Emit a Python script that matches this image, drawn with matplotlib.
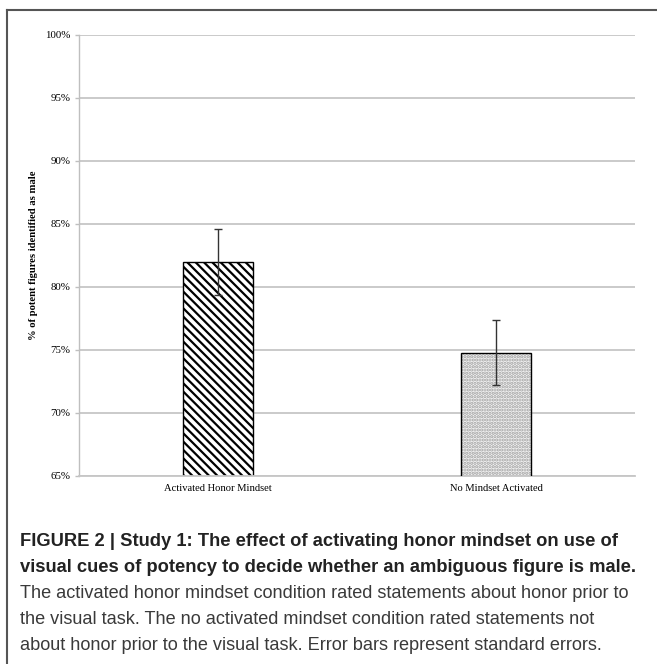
import matplotlib.pyplot as plt
import numpy as np
from matplotlib.lines import Line2D

conditions = ['Activated Honor Mindset', 'No Mindset Activated']
pct_male = [82.0, 74.8]
std_err = [2.6, 2.6]
y_ticks = [65, 70, 75, 80, 85, 90, 95, 100]
y_label = '% of potent figures identified as male'

caption_bold = ['FIGURE 2 | Study 1: The effect of activating honor mindset on use of',
                'visual cues of potency to decide whether an ambiguous figure is male.']
caption_plain = ['The activated honor mindset condition rated statements about honor prior to',
                 'the visual task. The no activated mindset condition rated statements not',
                 'about honor prior to the visual task. Error bars represent standard errors.']

plt.rcParams['hatch.linewidth'] = 1.6

fig = plt.figure(figsize=(6.57, 6.64), dpi=100)
ax = fig.add_axes([79 / 657, 1 - 476 / 664, (635 - 79) / 657, (476 - 35) / 664])

x = np.arange(len(conditions))
serif = 'Liberation Serif'

# striped bar
ax.bar(x[0], pct_male[0], width=0.25, color='white', edgecolor='black',
       hatch='\\\\\\\\', linewidth=1.0, zorder=2)
# stippled bar: hatch in gray, then black outline on top
ax.bar(x[1], pct_male[1], width=0.25, color='#f4f4f4', edgecolor='#a0a0a0',
       hatch='.....', linewidth=0, zorder=2)
ax.bar(x[1], pct_male[1], width=0.25, color='none', edgecolor='black',
       linewidth=1.0, zorder=3)

ax.errorbar(x, pct_male, yerr=std_err, fmt='none', ecolor='#333333',
            elinewidth=1.0, capsize=3, capthick=1.0, zorder=4)

ax.set_xlim(-0.5, 1.5)
ax.set_ylim(65, 100)
ax.set_yticks(y_ticks)
ax.set_yticklabels([f'{v}%' for v in y_ticks], fontfamily=serif, fontsize=7.8)
ax.set_xticks(x)
ax.set_xticklabels(conditions, fontfamily=serif, fontsize=7.6)
ax.tick_params(axis='x', length=0, pad=6)
ax.tick_params(axis='y', length=3, width=1, color='#bfbfbf', pad=3)

ax.yaxis.grid(True, color='#c6c6c6', linewidth=1.3)
ax.set_axisbelow(True)
for side in ['top', 'right']:
    ax.spines[side].set_visible(False)
ax.spines['left'].set_color('#bfbfbf')
ax.spines['bottom'].set_color('#c6c6c6')
ax.spines['left'].set_linewidth(1.0)
ax.spines['bottom'].set_linewidth(1.3)

ax.set_ylabel(y_label, fontfamily=serif, fontsize=7.7, fontweight='bold', labelpad=5)

# figure frame (open to the right and bottom)
fig.add_artist(Line2D([7.3 / 657, 1], [1 - 9.5 / 664, 1 - 9.5 / 664],
                      transform=fig.transFigure, color='#555555', linewidth=1.5))
fig.add_artist(Line2D([7.3 / 657, 7.3 / 657], [0, 1 - 9.5 / 664],
                      transform=fig.transFigure, color='#555555', linewidth=1.5))

line_y = [541, 567, 594, 620, 646]
for i, txt in enumerate(caption_bold + caption_plain):
    bold = i < len(caption_bold)
    fig.text(20 / 657, 1 - line_y[i] / 664, txt, fontfamily='Liberation Sans',
             fontsize=13.2 if bold else 13.05, fontweight='bold' if bold else 'normal',
             color='#222222' if bold else '#3a3a3a', va='center', ha='left')

fig.savefig('out.png', dpi=100)
